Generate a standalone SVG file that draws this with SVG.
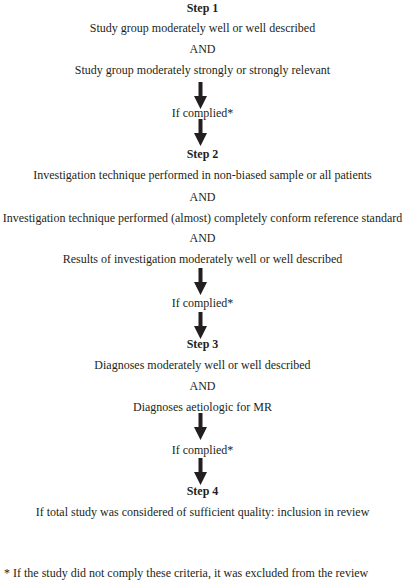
<svg xmlns="http://www.w3.org/2000/svg" width="408" height="583" viewBox="0 0 408 583">
<style>
text{font-family:"Liberation Serif","Times New Roman",serif;font-size:12px;fill:#231f20;text-anchor:middle}
.b{font-weight:bold}
.l{text-anchor:start}
.arr{fill:#231f20}
</style>
<defs>
<path id="ar" d="M-2,0 H2 V14 H6.5 L0,27 L-6.5,14 H-2 Z"/>
</defs>
<rect width="408" height="583" fill="#fff"/>
<g id="step1">
<text class="b" x="202.5" y="12">Step 1</text>
<text x="202.5" y="32">Study group moderately well or well described</text>
<text x="202.5" y="53">AND</text>
<text x="202.5" y="74">Study group moderately strongly or strongly relevant</text>
</g>
<g id="c1"><text x="202.5" y="117">If complied*</text></g>
<g id="step2">
<text class="b" x="202.5" y="158">Step 2</text>
<text x="202.5" y="179">Investigation technique performed in non-biased sample or all patients</text>
<text x="202.5" y="201">AND</text>
<text x="202.5" y="222">Investigation technique performed (almost) completely conform reference standard</text>
<text x="202.5" y="242">AND</text>
<text x="202.5" y="263">Results of investigation moderately well or well described</text>
</g>
<g id="c2"><text x="202.5" y="307">If complied*</text></g>
<g id="step3">
<text class="b" x="202.5" y="348">Step 3</text>
<text x="202.5" y="369">Diagnoses moderately well or well described</text>
<text x="202.5" y="390">AND</text>
<text x="202.5" y="411">Diagnoses aetiologic for MR</text>
</g>
<g id="c3"><text x="202.5" y="454">If complied*</text></g>
<g id="step4">
<text class="b" x="202.5" y="495">Step 4</text>
<text x="202.5" y="516">If total study was considered of sufficient quality: inclusion in review</text>
</g>
<g id="footnote"><text class="l" x="4" y="577">* If the study did not comply these criteria, it was excluded from the review</text></g>
<g id="connectors" class="arr">
<use href="#ar" x="200.5" y="82"/>
<use href="#ar" x="200.5" y="119"/>
<use href="#ar" x="200.5" y="268"/>
<use href="#ar" x="200.5" y="312"/>
<use href="#ar" x="200.5" y="413"/>
<use href="#ar" x="200.5" y="458"/>
</g>
</svg>
